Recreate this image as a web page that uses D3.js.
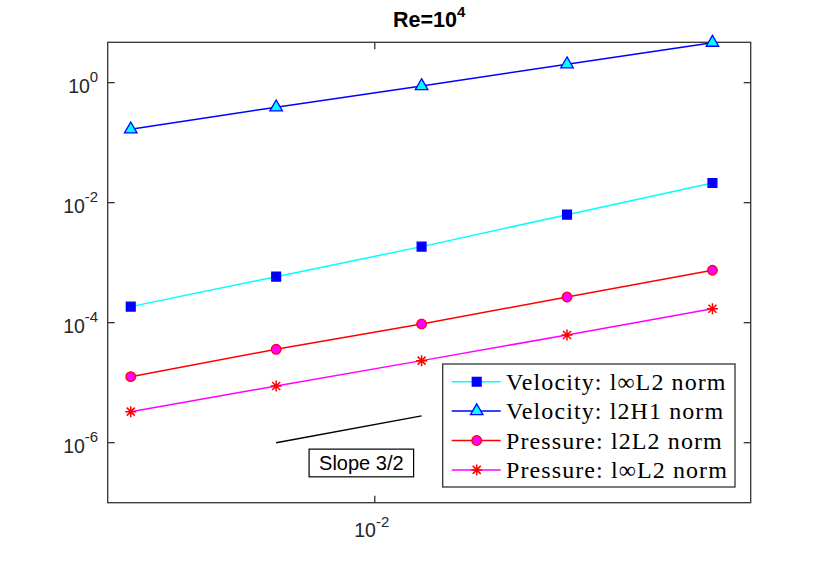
<!DOCTYPE html>
<html>
<head>
<meta charset="utf-8">
<script src="https://cdn.jsdelivr.net/npm/d3@7"></script>
<style>
body { margin: 0; background: #fff; }
text { fill: #262626; }
</style>
</head>
<body>
<script>

// mesh sizes and errors
var hValues = [1/320, 1/160, 1/80, 1/40, 1/20];
var velLinfL2 = [1.85e-4, 5.84e-4, 1.85e-3, 6.31e-3, 2.13e-2];
var velL2H1 = [0.167, 0.389, 0.881, 2.03, 4.64];
var presL2L2 = [1.26e-5, 3.6e-5, 9.5e-5, 2.68e-4, 7.47e-4];
var presLinfL2 = [3.29e-6, 8.8e-6, 2.33e-5, 6.24e-5, 1.71e-4];
var seriesNames = ["Velocity: l\u221EL2 norm", "Velocity: l2H1 norm", "Pressure: l2L2 norm", "Pressure: l\u221EL2 norm"];

var xTicks = [1e-2];
var yTicks = [1e-6, 1e-4, 1e-2, 1];

// reference slope line and its label
var slopeX = [1/160, 1/80];
var slopeY = [1e-6, 2.8e-6];
var slopeLabel = "Slope 3/2";
var slopeLabelPos = [0.00938, 4.6e-7];

var width = 830, height = 565;
var axL = 107.7, axR = 750.7, axT = 42.3, axB = 502.7;

var svg = d3.select("body").append("svg")
    .attr("width", width)
    .attr("height", height);

var x = d3.scaleLog().domain([0.0028, 0.06]).range([axL, axR]);
var y = d3.scaleLog().domain([1e-7, 4.7]).range([axB, axT]);

var series = [
    {name: seriesNames[0], values: velLinfL2, line: "#00ffff", marker: "square", fill: "#0000ff", edge: "#0000ff"},
    {name: seriesNames[1], values: velL2H1, line: "#0000ff", marker: "triangle", fill: "#00ffff", edge: "#0000ff"},
    {name: seriesNames[2], values: presL2L2, line: "#ff0000", marker: "circle", fill: "#ff00ff", edge: "#ff0000"},
    {name: seriesNames[3], values: presLinfL2, line: "#ff00ff", marker: "star", fill: "none", edge: "#ff0000"}
];

// axes box with inward ticks on all sides
var axisColor = "#333";
svg.append("rect")
    .attr("x", axL).attr("y", axT)
    .attr("width", axR - axL).attr("height", axB - axT)
    .attr("fill", "none").attr("stroke", axisColor).attr("stroke-width", 1.3);

var tickLen = 7;
yTicks.forEach(function (t) {
    svg.append("line").attr("x1", axL).attr("x2", axL + tickLen)
        .attr("y1", y(t)).attr("y2", y(t)).attr("stroke", axisColor).attr("stroke-width", 1.3);
    svg.append("line").attr("x1", axR).attr("x2", axR - tickLen)
        .attr("y1", y(t)).attr("y2", y(t)).attr("stroke", axisColor).attr("stroke-width", 1.3);
    var lab = svg.append("text")
        .attr("x", axL - 9.5).attr("y", y(t) + 10)
        .attr("text-anchor", "end")
        .style("font-family", "Liberation Sans, Arial, sans-serif")
        .style("font-size", "19.5px");
    lab.append("tspan").text("10");
    lab.append("tspan").attr("dy", -10.5).style("font-size", "15px").text(Math.round(Math.log10(t)));
});

xTicks.forEach(function (t) {
    svg.append("line").attr("x1", x(t)).attr("x2", x(t))
        .attr("y1", axB).attr("y2", axB - tickLen).attr("stroke", axisColor).attr("stroke-width", 1.3);
    svg.append("line").attr("x1", x(t)).attr("x2", x(t))
        .attr("y1", axT).attr("y2", axT + tickLen).attr("stroke", axisColor).attr("stroke-width", 1.3);
    var lab = svg.append("text")
        .attr("x", x(t) - 3).attr("y", axB + 34.6)
        .attr("text-anchor", "middle")
        .style("font-family", "Liberation Sans, Arial, sans-serif")
        .style("font-size", "19.5px");
    lab.append("tspan").text("10");
    lab.append("tspan").attr("dy", -10.5).style("font-size", "15px").text(Math.round(Math.log10(t)));
});

// title
var title = svg.append("text")
    .attr("x", (axL + axR) / 2).attr("y", 27)
    .attr("text-anchor", "middle")
    .style("font-family", "Liberation Sans, Arial, sans-serif")
    .style("font-weight", "bold")
    .style("font-size", "21.5px")
    .style("fill", "#000");
title.append("tspan").text("Re=10");
title.append("tspan").attr("dy", -10.5).style("font-size", "15px").text("4");

function markerPath(kind) {
    if (kind == "square") return d3.symbol().type(d3.symbolSquare).size(78)();
    if (kind == "triangle") return d3.symbol().type(d3.symbolTriangle).size(68)();
    if (kind == "circle") return d3.symbol().type(d3.symbolCircle).size(72)();
    // asterisk: plus and cross together
    var r = 5.5, d = 4;
    return "M" + (-r) + ",0L" + r + ",0M0," + (-r) + "L0," + r +
        "M" + (-d) + "," + (-d) + "L" + d + "," + d + "M" + (-d) + "," + d + "L" + d + "," + (-d);
}

var line = d3.line()
    .x(function (d) { return x(d[0]); })
    .y(function (d) { return y(d[1]); });

var plot = svg.append("g");

series.forEach(function (s) {
    var pts = hValues.map(function (h, i) { return [h, s.values[i]]; });
    plot.append("path")
        .attr("d", line(pts))
        .attr("fill", "none")
        .attr("stroke", s.line)
        .attr("stroke-width", 1.5);
    plot.selectAll(null)
        .data(pts)
        .enter().append("path")
        .attr("d", markerPath(s.marker))
        .attr("transform", function (d) { return "translate(" + x(d[0]) + "," + y(d[1]) + ")"; })
        .attr("fill", s.fill)
        .attr("stroke", s.edge)
        .attr("stroke-width", s.marker == "star" ? 1.5 : 1.3);
});

// slope reference line
plot.append("path")
    .attr("d", line(slopeX.map(function (v, i) { return [v, slopeY[i]]; })))
    .attr("stroke", "#000").attr("stroke-width", 1.4).attr("fill", "none");

var sl = svg.append("text")
    .attr("x", x(slopeLabelPos[0])).attr("y", y(slopeLabelPos[1]) + 7)
    .attr("text-anchor", "middle")
    .style("font-family", "Liberation Sans, Arial, sans-serif")
    .style("font-size", "20px")
    .style("fill", "#000")
    .text(slopeLabel);
var bb = sl.node().getBBox();
svg.insert("rect", function () { return sl.node(); })
    .attr("x", bb.x - 10).attr("y", y(slopeLabelPos[1]) - 13.8)
    .attr("width", bb.width + 20).attr("height", 27.7)
    .attr("fill", "#fff").attr("stroke", "#000").attr("stroke-width", 1.2);

// legend
var lgW = 292.3, lgH = 123, rowH = 29.4;
var lgX = axR - 15.7 - lgW, lgY = axB - 15.7 - lgH;
var lg = svg.append("g").attr("transform", "translate(" + lgX + "," + lgY + ")");
lg.append("rect")
    .attr("width", lgW).attr("height", lgH)
    .attr("fill", "#fff").attr("stroke", axisColor).attr("stroke-width", 1.3);

var rows = lg.selectAll("g.row")
    .data(series)
    .enter().append("g")
    .attr("class", "row")
    .attr("transform", function (d, i) { return "translate(0," + (17.7 + i * rowH) + ")"; });

rows.append("line")
    .attr("x1", 9).attr("x2", 58)
    .attr("stroke", function (d) { return d.line; })
    .attr("stroke-width", 1.5);
rows.append("path")
    .attr("d", function (d) { return markerPath(d.marker); })
    .attr("transform", "translate(34,0)")
    .attr("fill", function (d) { return d.fill; })
    .attr("stroke", function (d) { return d.edge; })
    .attr("stroke-width", function (d) { return d.marker == "star" ? 1.5 : 1.3; });
rows.append("text")
    .attr("x", 63.3).attr("y", 8)
    .style("font-family", "Liberation Serif, Times New Roman, serif")
    .style("font-size", "24px")
    .style("letter-spacing", "1.1px")
    .style("fill", "#000")
    .text(function (d) { return d.name; });

</script>
</body>
</html>
